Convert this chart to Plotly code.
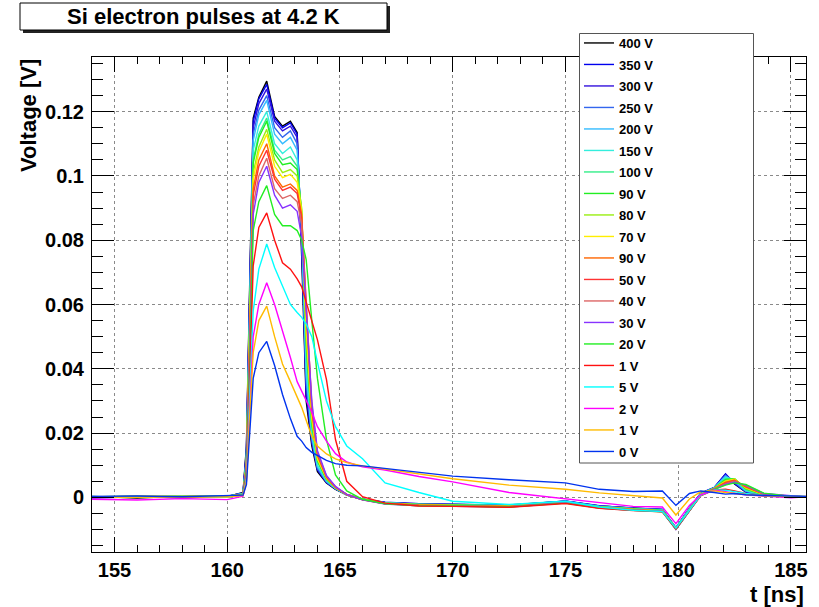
import plotly.graph_objects as go

# ---------------- data ----------------
t_ns = [154.0, 156.0, 158.0, 160.0, 160.7, 160.85, 161.0, 161.15, 161.4, 161.75,
        162.1, 162.45, 162.8, 163.1, 163.3, 163.5, 163.75, 164.0, 164.4, 164.8,
        165.3, 166.0, 167.0, 168.5, 170.0, 172.5, 175.0, 176.5, 178.0, 179.3,
        179.9, 180.5, 181.0, 181.6, 182.1, 182.5, 183.0, 183.8, 185.0, 185.7]

series_names = ["400 V", "350 V", "300 V", "250 V", "200 V", "150 V", "100 V", "90 V",
                "80 V", "70 V", "90 V", "50 V", "40 V", "30 V", "20 V", "1 V", "5 V",
                "2 V", "1 V", "0 V"]

series_colors = ["#000000", "#0000ee", "#3311dd", "#3366ee", "#33bbff", "#33eedd",
                 "#33ee88", "#22ee22", "#99ee11", "#ffee00", "#ff6600", "#ff3333",
                 "#dd6666", "#8833ff", "#22ee22", "#ff1111", "#00ffff", "#ff00ff",
                 "#ffbb00", "#0033ee"]

v_400 = [0.0003, -0.0002, 0.0004, 0.0002, 0.0015, 0.016, 0.068, 0.118, 0.1245, 0.1295,
         0.1185, 0.1155, 0.117, 0.1135, 0.075, 0.030, 0.016, 0.008, 0.0045, 0.0025,
         0.0008, -0.0006, -0.0016, -0.0021, -0.0022, -0.0024, -0.0012, -0.0027, -0.0033, -0.0038,
         -0.0096, -0.0034, 0.0012, 0.0030, 0.0072, 0.0042, 0.0016, 0.0006, 0.0003, 0.0002]
v_350 = [0.0001, 0.0003, -0.0002, 0.0004, 0.0014, 0.015, 0.066, 0.117, 0.124, 0.1285,
         0.118, 0.115, 0.1165, 0.113, 0.078, 0.032, 0.017, 0.0085, 0.0046, 0.0026,
         0.0009, -0.0005, -0.0015, -0.0020, -0.0021, -0.0025, -0.0011, -0.0026, -0.0034, -0.0037,
         -0.0094, -0.0033, 0.0013, 0.0031, 0.0073, 0.0043, 0.0017, 0.0005, 0.0004, 0.0001]
v_300 = [-0.0002, 0.0002, 0.0003, 0.0001, 0.0013, 0.014, 0.064, 0.115, 0.1225, 0.127,
         0.117, 0.114, 0.1155, 0.112, 0.080, 0.034, 0.0175, 0.0088, 0.0047, 0.0026,
         0.0007, -0.0007, -0.0017, -0.0021, -0.0023, -0.0026, -0.0013, -0.0028, -0.0035, -0.0039,
         -0.0097, -0.0035, 0.0011, 0.0030, 0.0070, 0.0045, 0.0018, 0.0006, 0.0002, 0.0003]
v_250 = [0.0002, 0.0001, 0.0005, 0.0003, 0.0012, 0.013, 0.062, 0.113, 0.1205, 0.125,
         0.115, 0.112, 0.114, 0.110, 0.082, 0.036, 0.018, 0.009, 0.0048, 0.0027,
         0.0008, -0.0006, -0.0016, -0.0022, -0.0022, -0.0025, -0.0012, -0.0027, -0.0034, -0.0038,
         -0.0095, -0.0034, 0.0012, 0.0029, 0.0068, 0.0047, 0.0019, 0.0006, 0.0003, 0.0002]
v_200 = [0.0000, 0.0003, 0.0002, 0.0004, 0.0012, 0.012, 0.060, 0.111, 0.119, 0.1235,
         0.113, 0.110, 0.112, 0.108, 0.084, 0.038, 0.019, 0.0095, 0.0050, 0.0028,
         0.0008, -0.0006, -0.0017, -0.0022, -0.0023, -0.0026, -0.0013, -0.0028, -0.0035, -0.0039,
         -0.0096, -0.0035, 0.0011, 0.0030, 0.0066, 0.0050, 0.0020, 0.0007, 0.0003, 0.0001]
v_150 = [0.0003, 0.0000, 0.0004, 0.0002, 0.0011, 0.012, 0.058, 0.108, 0.1155, 0.120,
         0.110, 0.107, 0.109, 0.105, 0.086, 0.041, 0.020, 0.010, 0.0052, 0.0028,
         0.0007, -0.0007, -0.0017, -0.0023, -0.0023, -0.0026, -0.0014, -0.0029, -0.0036, -0.0040,
         -0.0097, -0.0036, 0.0010, 0.0029, 0.0062, 0.0056, 0.0022, 0.0007, 0.0002, 0.0002]
v_100 = [0.0001, 0.0004, 0.0001, 0.0003, 0.0010, 0.011, 0.056, 0.105, 0.113, 0.118,
         0.108, 0.105, 0.106, 0.103, 0.088, 0.046, 0.022, 0.011, 0.0055, 0.0029,
         0.0008, -0.0007, -0.0018, -0.0022, -0.0024, -0.0027, -0.0014, -0.0029, -0.0036, -0.0041,
         -0.0096, -0.0036, 0.0010, 0.0029, 0.0058, 0.0058, 0.0024, 0.0008, 0.0003, 0.0002]
v_90 = [0.0002, 0.0001, 0.0003, 0.0004, 0.0010, 0.011, 0.055, 0.104, 0.112, 0.117,
        0.107, 0.1035, 0.104, 0.102, 0.089, 0.048, 0.023, 0.0115, 0.0056, 0.0030,
        0.0009, -0.0006, -0.0018, -0.0023, -0.0024, -0.0027, -0.0014, -0.0030, -0.0037, -0.0041,
        -0.0097, -0.0037, 0.0009, 0.0028, 0.0055, 0.0058, 0.0026, 0.0008, 0.0004, 0.0001]
v_80 = [0.0000, 0.0003, 0.0002, 0.0002, 0.0010, 0.010, 0.053, 0.101, 0.109, 0.1145,
        0.105, 0.101, 0.102, 0.100, 0.090, 0.050, 0.024, 0.012, 0.0058, 0.0030,
        0.0008, -0.0007, -0.0018, -0.0023, -0.0025, -0.0027, -0.0015, -0.0030, -0.0037, -0.0042,
        -0.0097, -0.0037, 0.0009, 0.0028, 0.0052, 0.0057, 0.0028, 0.0009, 0.0003, 0.0002]
v_70 = [0.0002, 0.0002, 0.0004, 0.0001, 0.0009, 0.010, 0.052, 0.099, 0.1075, 0.113,
        0.103, 0.0995, 0.1005, 0.098, 0.089, 0.052, 0.025, 0.012, 0.0060, 0.0031,
        0.0009, -0.0006, -0.0019, -0.0024, -0.0025, -0.0028, -0.0015, -0.0031, -0.0038, -0.0042,
        -0.0098, -0.0038, 0.0008, 0.0027, 0.0050, 0.0056, 0.0030, 0.0009, 0.0004, 0.0001]
v_90b = [0.0001, 0.0003, 0.0001, 0.0003, 0.0009, 0.010, 0.050, 0.096, 0.105, 0.110,
         0.100, 0.0965, 0.0975, 0.0955, 0.088, 0.058, 0.027, 0.013, 0.0062, 0.0031,
         0.0009, -0.0007, -0.0019, -0.0024, -0.0026, -0.0028, -0.0016, -0.0031, -0.0038, -0.0043,
         -0.0098, -0.0038, 0.0008, 0.0027, 0.0047, 0.0054, 0.0032, 0.0010, 0.0003, 0.0002]
v_50 = [0.0002, 0.0000, 0.0003, 0.0002, 0.0009, 0.009, 0.049, 0.094, 0.103, 0.108,
        0.099, 0.0955, 0.0965, 0.0945, 0.087, 0.059, 0.028, 0.0135, 0.0064, 0.0032,
        0.0008, -0.0008, -0.0020, -0.0025, -0.0026, -0.0029, -0.0016, -0.0032, -0.0039, -0.0043,
        -0.0099, -0.0039, 0.0007, 0.0026, 0.0045, 0.0052, 0.0034, 0.0010, 0.0004, 0.0001]
v_40 = [0.0001, 0.0002, 0.0002, 0.0003, 0.0008, 0.009, 0.047, 0.091, 0.100, 0.1055,
        0.096, 0.093, 0.094, 0.092, 0.085, 0.060, 0.029, 0.014, 0.0066, 0.0033,
        0.0009, -0.0007, -0.0020, -0.0025, -0.0026, -0.0029, -0.0017, -0.0032, -0.0039, -0.0044,
        -0.0099, -0.0039, 0.0007, 0.0026, 0.0043, 0.0050, 0.0036, 0.0011, 0.0003, 0.0002]
v_30 = [0.0000, 0.0002, 0.0001, 0.0002, 0.0008, 0.009, 0.045, 0.088, 0.098, 0.103,
        0.094, 0.090, 0.091, 0.089, 0.081, 0.058, 0.030, 0.0145, 0.0068, 0.0034,
        0.0009, -0.0008, -0.0021, -0.0026, -0.0027, -0.0030, -0.0017, -0.0033, -0.0040, -0.0044,
        -0.0100, -0.0040, 0.0006, 0.0025, 0.0040, 0.0047, 0.0038, 0.0012, 0.0004, 0.0001]
v_20 = [0.0002, 0.0001, 0.0003, 0.0001, 0.0008, 0.008, 0.042, 0.083, 0.092, 0.097,
        0.088, 0.0845, 0.0845, 0.083, 0.080, 0.074, 0.055, 0.037, 0.018, 0.0070,
        0.0020, -0.0006, -0.0020, -0.0026, -0.0027, -0.0030, -0.0018, -0.0033, -0.0040, -0.0045,
        -0.0099, -0.0040, 0.0006, 0.0025, 0.0038, 0.0045, 0.0040, 0.0013, 0.0003, 0.0002]
v_1a = [0.0001, 0.0002, 0.0000, 0.0002, 0.0007, 0.007, 0.038, 0.072, 0.084, 0.0885,
        0.080, 0.073, 0.071, 0.068, 0.0655, 0.061, 0.055, 0.049, 0.0366, 0.018,
        0.0050, 0.0002, -0.0018, -0.0027, -0.0028, -0.0031, -0.0019, -0.0034, -0.0041, -0.0045,
        -0.0098, -0.0041, 0.0005, 0.0023, 0.0025, 0.0020, 0.0012, 0.0006, 0.0002, 0.0001]
v_5 = [0.0002, 0.0001, 0.0003, 0.0000, 0.0007, 0.006, 0.033, 0.058, 0.071, 0.0788,
       0.0715, 0.066, 0.060, 0.0575, 0.056, 0.054, 0.050, 0.042, 0.030, 0.022,
       0.016, 0.012, 0.0045, 0.0015, -0.0012, -0.0022, -0.0012, -0.0030, -0.0040, -0.0044,
       -0.0096, -0.0040, 0.0006, 0.0023, 0.0022, 0.0018, 0.0012, 0.0006, 0.0003, 0.0002]
v_2 = [-0.0006, -0.0008, -0.0004, -0.0007, 0.0004, 0.005, 0.028, 0.050, 0.060, 0.0668,
       0.060, 0.052, 0.0435, 0.036, 0.033, 0.030, 0.0265, 0.022, 0.0175, 0.0136,
       0.011, 0.0095, 0.0085, 0.0065, 0.0048, 0.0015, -0.0005, -0.0018, -0.0028, -0.0030,
       -0.0082, -0.0025, 0.0008, 0.0022, 0.0018, 0.0012, 0.0008, 0.0004, -0.0001, 0.0002]
v_1b = [0.0001, 0.0000, 0.0002, 0.0001, 0.0006, 0.005, 0.026, 0.045, 0.055, 0.0595,
        0.050, 0.0415, 0.036, 0.031, 0.028, 0.024, 0.019, 0.016, 0.0135, 0.012,
        0.0108, 0.0098, 0.0088, 0.0074, 0.0058, 0.0038, 0.0025, 0.0014, 0.0006, -0.0002,
        -0.0055, -0.0005, 0.0018, 0.0020, 0.0015, 0.0012, 0.0009, 0.0005, 0.0002, 0.0003]
v_0 = [0.0003, 0.0004, 0.0002, 0.0005, 0.0007, 0.004, 0.022, 0.037, 0.045, 0.0485,
       0.041, 0.032, 0.0245, 0.019, 0.0175, 0.0155, 0.014, 0.013, 0.0115, 0.0105,
       0.0100, 0.0098, 0.0090, 0.0077, 0.0066, 0.0055, 0.0045, 0.0025, 0.0018, 0.0020,
       -0.0025, 0.0012, 0.0020, 0.0015, 0.0010, 0.0012, 0.0008, 0.0006, 0.0004, 0.0003]

series_values = [v_400, v_350, v_300, v_250, v_200, v_150, v_100, v_90, v_80, v_70,
                 v_90b, v_50, v_40, v_30, v_20, v_1a, v_5, v_2, v_1b, v_0]

x_ticks = [155, 160, 165, 170, 175, 180, 185]
y_ticks = [0, 0.02, 0.04, 0.06, 0.08, 0.1, 0.12]
y_tick_text = ["0", "0.02", "0.04", "0.06", "0.08", "0.1", "0.12"]

# ---------------- layout helpers ----------------
W, H = 819, 607
ML, MR, MT, MB = 92, 13, 57, 55
PW = W - ML - MR
PH = H - MT - MB


def px(x):
    return (x - ML) / PW


def py(y):
    return (H - MB - y) / PH


FONT = "Liberation Sans, Arial, Helvetica, sans-serif"

fig = go.Figure()
for i, (name, color, vals) in enumerate(zip(series_names, series_colors, series_values)):
    fig.add_trace(go.Scatter(
        x=t_ns, y=vals, mode="lines", name=name, legendgroup="g%d" % i,
        line=dict(color=color, width=1.4),
    ))

axis_common = dict(
    showline=True, linecolor="black", linewidth=1, mirror="ticks",
    ticks="inside", tickcolor="black", tickwidth=1,
    showgrid=True, gridcolor="#8a8a8a", griddash="dot", gridwidth=1,
    zeroline=False,
    tickfont=dict(family=FONT, size=20, color="black", weight="bold"),
)

fig.update_xaxes(
    range=[154.0, 185.67], tickvals=x_ticks, ticklen=15,
    minor=dict(dtick=1, tick0=155, ticklen=7, ticks="inside", tickcolor="black", showgrid=False),
    ticklabelstandoff=0,
    **axis_common,
)
fig.update_yaxes(
    range=[-0.017, 0.137], tickvals=y_ticks, ticktext=y_tick_text, ticklen=22,
    minor=dict(dtick=0.005, tick0=0, ticklen=11, ticks="inside", tickcolor="black", showgrid=False),
    ticklabelstandoff=3,
    **axis_common,
)

shapes = [
    # title box shadow + box
    dict(type="rect", xref="paper", yref="paper", x0=px(23), x1=px(390), y0=py(33), y1=py(6),
         fillcolor="#222222", line=dict(width=0), layer="above"),
    dict(type="rect", xref="paper", yref="paper", x0=px(20), x1=px(387), y0=py(30), y1=py(3),
         fillcolor="white", line=dict(color="black", width=1), layer="above"),
    # legend box
    dict(type="rect", xref="paper", yref="paper", x0=px(579.5), x1=px(753.5), y0=py(463), y1=py(33.5),
         fillcolor="white", line=dict(color="#555555", width=1), layer="above"),
]

annotations = [
    dict(text="Si electron pulses at 4.2 K", xref="paper", yref="paper",
         x=px(203), y=py(17), xanchor="center", yanchor="middle", showarrow=False,
         font=dict(family=FONT, size=22, color="black", weight="bold")),
    dict(text="Voltage [V]", xref="paper", yref="paper", textangle=-90,
         x=px(28), y=py(116), xanchor="center", yanchor="middle", showarrow=False,
         font=dict(family=FONT, size=22, color="black", weight="bold")),
    dict(text="t [ns]", xref="paper", yref="paper",
         x=1.0, y=py(594), xanchor="right", yanchor="middle", showarrow=False,
         font=dict(family=FONT, size=22, color="black", weight="bold")),
]

fig.update_layout(
    width=W, height=H,
    margin=dict(l=ML, r=MR, t=MT, b=MB, pad=0),
    paper_bgcolor="white", plot_bgcolor="white",
    shapes=shapes, annotations=annotations,
    showlegend=True,
    legend=dict(
        x=px(579), y=py(28), xanchor="left", yanchor="top",
        bgcolor="rgba(0,0,0,0)", borderwidth=0,
        font=dict(family=FONT, size=13, color="black", weight="bold"),
        tracegroupgap=1.6, itemwidth=30, maxheight=700,
    ),
)

fig.write_html("out.html", config={"displayModeBar": False},
               post_script="document.body.style.margin='0px';")
